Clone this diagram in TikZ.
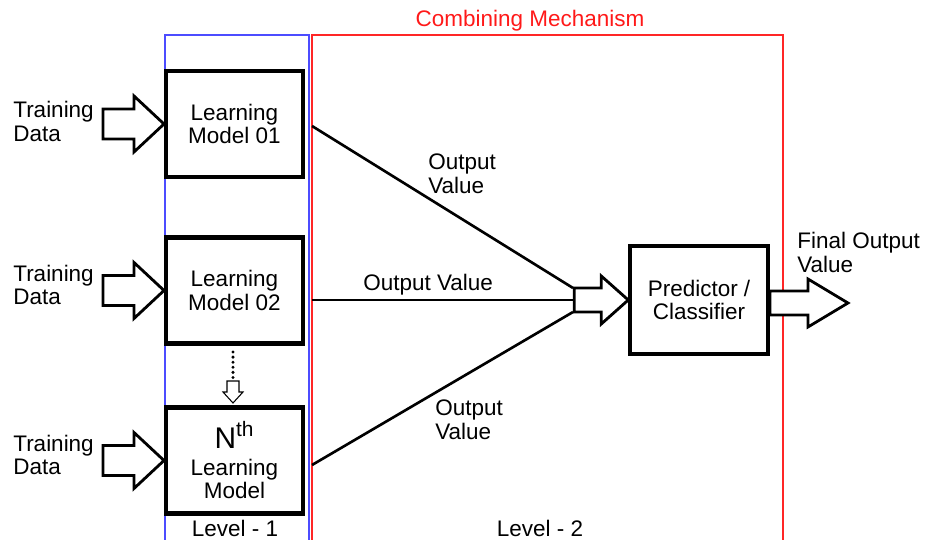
\documentclass[tikz,border=0pt]{standalone}
\usepackage{fontspec}
\setmainfont{Liberation Sans}
\usetikzlibrary{calc}

\newcommand{\fatarrow}[5]{%
\draw[fat] ($(#1)+(-#2,-#4)$) -- ($(#1)+(-#3,-#4)$) -- ($(#1)+(-#3,-#5)$) -- (#1)
  -- ($(#1)+(-#3,#5)$) -- ($(#1)+(-#3,#4)$) -- ($(#1)+(-#2,#4)$) -- cycle;}

\begin{document}
\begin{tikzpicture}[x=0.02cm,y=-0.02cm,
  model/.style={draw,line width=2.3pt,minimum width=2.74cm,minimum height=2.12cm,align=center,font=\fontsize{12.8}{13.5}\selectfont},
  txt/.style={inner sep=0pt,align=left,anchor=west,font=\fontsize{12.8}{13.5}\selectfont},
  fat/.style={draw,line width=1.6pt,line join=miter,fill=white},
  link/.style={draw,line width=1.5pt}]
\useasboundingbox (0,0) rectangle (925,540);

\draw[blue!70,line width=0.7pt] (165,560) |- (309,35) -- (309,560);
\draw[red!85,line width=0.7pt] (312,560) |- (783,35) -- (783,560);
\node[txt,anchor=center,text=red!90] (cm) at (530,21) {Combining Mechanism};

\node[model] (1l) at (234.5,124) {Learning\\Model 01};
\node[model] (2l) at (234.5,290.5) {Learning\\Model 02};
\node[model] (3l) at (234.5,460.5) {{\fontsize{17}{19}\selectfont N\textsuperscript{th}}\\[2pt]Learning\\Model};
\node[model,line width=2pt,minimum width=2.76cm,minimum height=2.16cm] (p) at (699,300) {Predictor /\\Classifier};

\node[txt] (1t) at (13,121.5) {Training\\Data};
\node[txt] (2t) at (13,285) {Training\\Data};
\node[txt] (3t) at (13,455) {Training\\Data};
\fatarrow{1l.west}{61}{30}{15}{28}
\fatarrow{2l.west}{61}{30}{15}{28}
\fatarrow{3l.west}{61}{30}{15}{28}

\draw[line width=1.9pt,line cap=round,dash pattern=on 0pt off 2.9pt] (233,352) -- (233,379);
\coordinate (di) at (233,403);
\draw[line width=0.6pt,fill=white] ($(di)+(-6,-22)$) -- ($(di)+(-6,-11)$) -- ($(di)+(-10,-11)$) -- (di)
  -- ($(di)+(10,-11)$) -- ($(di)+(6,-11)$) -- ($(di)+(6,-22)$) -- cycle;

\coordinate (1o) at (312,126);
\coordinate (2o) at (312,300);
\coordinate (3o) at (312,465);
\coordinate (ct1) at (573,288);
\coordinate (ct2) at (573,300);
\coordinate (ct3) at (573,312);
\path[link] (1o) -- (ct1);
\path[link] (2o) -- (ct2);
\path[link] (3o) -- (ct3);
\fatarrow{p.west}{54}{27}{12}{24}

\coordinate (fo) at (848,303);
\fatarrow{fo}{78}{40}{12}{24}

\node[txt] (v1) at (428,174) {Output\\Value};
\node[txt] (v2) at (363,285) {Output Value};
\node[txt] (v3) at (435,419.5) {Output\\Value};
\node[txt] (fv) at (797,252.5) {Final Output\\Value};

\node[txt,anchor=center] (lv1) at (235,528) {Level - 1};
\node[txt,anchor=center] (lv2) at (540,528) {Level - 2};
\end{tikzpicture}
\end{document}
